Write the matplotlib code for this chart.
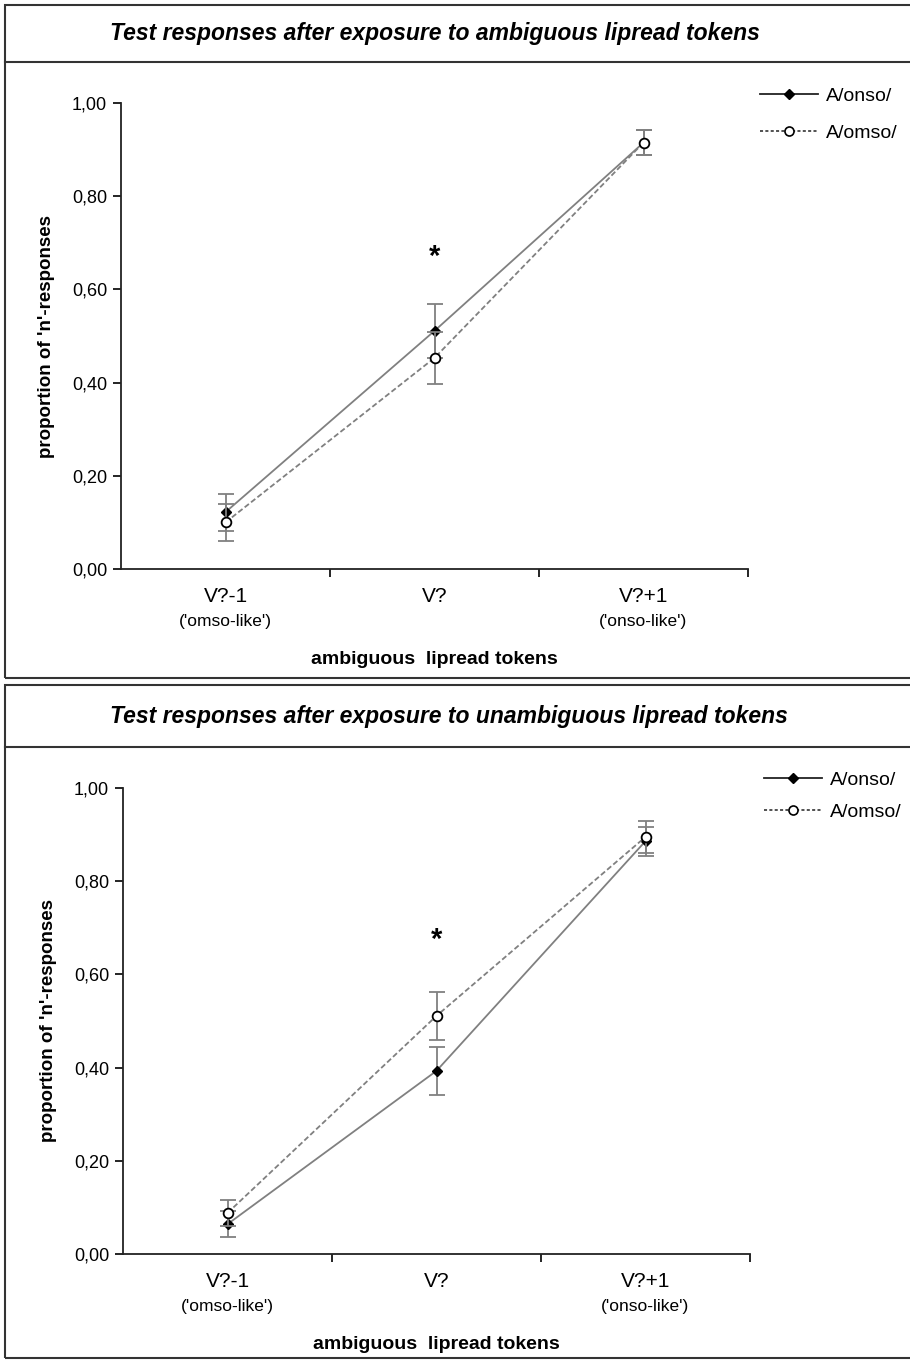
import matplotlib.pyplot as plt
from matplotlib.patches import Rectangle
from matplotlib.lines import Line2D

plt.rcParams['font.family'] = ['Liberation Sans', 'DejaVu Sans']

# token categories along the x axis
tokens = ['V?-1', 'V?', 'V?+1']
token_notes = ["('omso-like')", '', "('onso-like')"]
xpos = [1, 2, 3]

# exposure to ambiguous lipread tokens
amb_onso = [0.122, 0.511, 0.915]
amb_onso_err = [0.04, 0.058, 0.026]
amb_omso = [0.100, 0.453, 0.915]
amb_omso_err = [0.04, 0.055, 0.026]
amb_star = 0.67

# exposure to unambiguous lipread tokens
unamb_onso = [0.064, 0.393, 0.886]
unamb_onso_err = [0.028, 0.052, 0.031]
unamb_omso = [0.088, 0.511, 0.895]
unamb_omso_err = [0.028, 0.052, 0.034]
unamb_star = 0.674

yticks = [0.0, 0.2, 0.4, 0.6, 0.8, 1.0]
ytick_labels = ['0,00', '0,20', '0,40', '0,60', '0,80', '1,00']

W, H = 910, 1360
fig = plt.figure(figsize=(W / 100, H / 100), dpi=100)


def px(x, y):
    # pixel position (from top-left) -> figure fraction
    return x / W, 1 - y / H


def frame(top, bottom, sep, title, title_x):
    edge = '#333333'
    fig.patches.append(Rectangle(px(5, bottom), (W + 10) / W, (bottom - top) / H,
                                 transform=fig.transFigure, fill=False,
                                 edgecolor=edge, lw=1.5))
    fig.add_artist(Line2D([5 / W, 1.01], [1 - sep / H] * 2, color=edge, lw=1.5,
                          transform=fig.transFigure))
    fig.text(*px(title_x, (top + sep) / 2), title, ha='center', va='center',
             fontsize=16.5, fontweight='bold', fontstyle='italic')


def panel(left, y_top, onso, onso_err, omso, omso_err, star, leg_xy, leg_gap):
    x0, y0 = px(left, y_top + 466)
    ax = fig.add_axes([x0, y0, 627 / W, 466 / H])
    grey = '#808080'
    ax.errorbar(xpos, onso, yerr=onso_err, color=grey, lw=1.3, ecolor=grey,
                elinewidth=1.3, capsize=6, capthick=1.3, marker='D', ms=5.5,
                mfc='black', mec='black', zorder=3)
    ax.errorbar(xpos, omso, yerr=omso_err, color=grey, lw=1.3, ls=(0, (3, 1.5)),
                ecolor=grey, elinewidth=1.3, capsize=6, capthick=1.3, marker='o',
                ms=7, mfc='white', mec='black', mew=1.3, zorder=4)
    ax.text(2, star, '*', ha='center', va='center', fontsize=21, fontweight='bold')

    ax.set_xlim(0.5, 3.5)
    ax.set_ylim(0, 1)
    ax.spines['top'].set_visible(False)
    ax.spines['right'].set_visible(False)
    for s in ('left', 'bottom'):
        ax.spines[s].set_color('#222222')
        ax.spines[s].set_linewidth(1.3)

    ax.set_yticks(yticks, ytick_labels, fontsize=13)
    ax.tick_params(axis='y', length=6, width=1.2, pad=4)
    ax.set_xticks(xpos, tokens, fontsize=15)
    ax.tick_params(axis='x', which='major', length=0, pad=13)
    ax.set_xticks([1.5, 2.5, 3.5], minor=True)
    ax.tick_params(axis='x', which='minor', length=6, width=1.2)
    for x, note in zip(xpos, token_notes):
        ax.text(x, -0.112, note, transform=ax.get_xaxis_transform(),
                ha='center', va='center', fontsize=12.5)
    ax.text(0.5, -0.195, 'ambiguous  lipread tokens', transform=ax.transAxes,
            ha='center', va='center', fontsize=14, fontweight='bold')
    ax.set_ylabel("proportion of 'n'-responses", fontsize=13.5, fontweight='bold',
                  labelpad=12)

    handles = [
        Line2D([], [], color='#222222', lw=1.3, marker='D', ms=5.5,
               mfc='black', mec='black'),
        Line2D([], [], color='#222222', lw=1.1, ls=(0, (2, 1.5)), marker='o',
               ms=6.5, mfc='white', mec='black', mew=1.2),
    ]
    fig.legend(handles, ['A/onso/', 'A/omso/'], loc='upper left',
               bbox_to_anchor=leg_xy, frameon=False, fontsize=14,
               handlelength=3.0, handletextpad=0.4, labelspacing=leg_gap,
               borderaxespad=0, borderpad=0)
    return ax


frame(5, 678, 62, 'Test responses after exposure to ambiguous lipread tokens', 435)
frame(685, 1358, 747, 'Test responses after exposure to unambiguous lipread tokens', 449)

panel(121, 103, amb_onso, amb_onso_err, amb_omso, amb_omso_err, amb_star,
      px(760, 87), 1.0)
panel(123, 788, unamb_onso, unamb_onso_err, unamb_omso, unamb_omso_err, unamb_star,
      px(764, 771), 0.75)

fig.savefig('out.png', dpi=100)
